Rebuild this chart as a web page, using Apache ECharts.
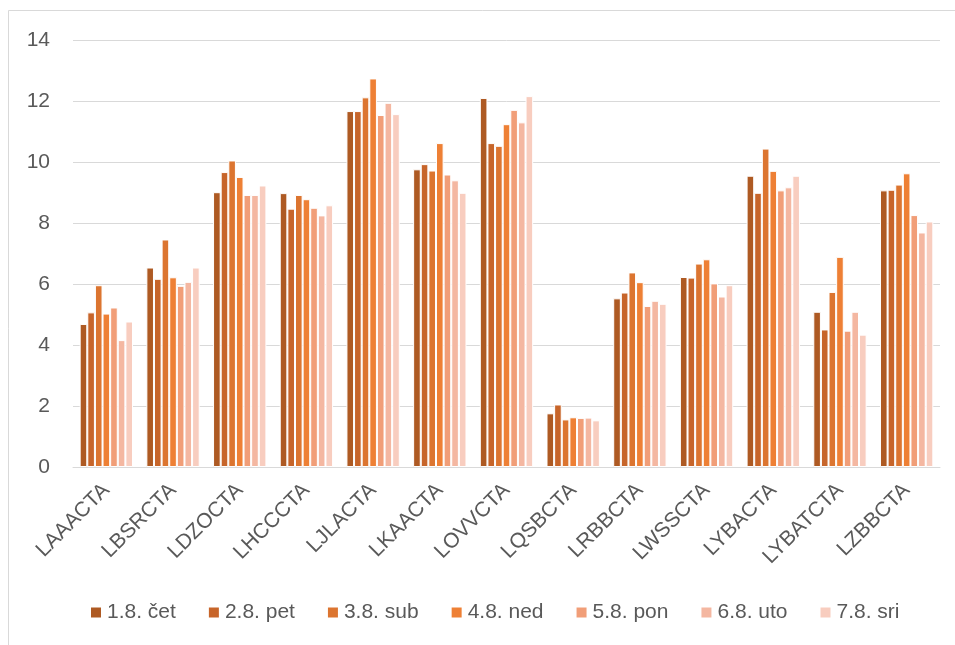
<!DOCTYPE html>
<html>
<head>
<meta charset="utf-8">
<script src="https://cdn.jsdelivr.net/npm/echarts@6/dist/echarts.min.js"></script>
<style>
  html, body { margin: 0; padding: 0; background: #ffffff; }
  #chart { width: 955px; height: 645px; }
</style>
</head>
<body>
<div id="chart"></div>
<script>
// Station codes along the x axis
const categories = ['LAAACTA', 'LBSRCTA', 'LDZOCTA', 'LHCCCTA', 'LJLACTA', 'LKAACTA', 'LOVVCTA',
  'LQSBCTA', 'LRBBCTA', 'LWSSCTA', 'LYBACTA', 'LYBATCTA', 'LZBBCTA'];

// One series per day
const dayNames = ['1.8. čet', '2.8. pet', '3.8. sub', '4.8. ned', '5.8. pon', '6.8. uto', '7.8. sri'];

const day1 = [4.69, 6.54, 9.01, 8.98, 11.67, 9.76, 12.10, 1.76, 5.53, 6.23, 9.55, 5.09, 9.07];
const day2 = [5.07, 6.17, 9.67, 8.47, 11.67, 9.93, 10.62, 2.05, 5.72, 6.21, 8.99, 4.51, 9.09];
const day3 = [5.96, 7.46, 10.05, 8.92, 12.12, 9.72, 10.53, 1.56, 6.38, 6.67, 10.44, 5.74, 9.26];
const day4 = [5.03, 6.22, 9.51, 8.78, 12.74, 10.62, 11.24, 1.63, 6.06, 6.81, 9.71, 6.89, 9.63];
const day5 = [5.23, 5.94, 8.92, 8.50, 11.54, 9.59, 11.71, 1.61, 5.28, 6.02, 9.07, 4.47, 8.26];
const day6 = [4.16, 6.07, 8.92, 8.25, 11.94, 9.40, 11.30, 1.62, 5.45, 5.59, 9.17, 5.09, 7.69];
const day7 = [4.77, 6.54, 9.23, 8.58, 11.57, 8.99, 12.16, 1.53, 5.35, 5.96, 9.55, 4.34, 8.05];

const dayValues = [day1, day2, day3, day4, day5, day6, day7];

const palette = ['#AE5A23', '#C7652A', '#DC7530', '#EE8035', '#F19E78', '#F4B7A1', '#F8CDBF'];

const textColor = '#595959';
const fontFamily = '"Liberation Sans", Arial, sans-serif';

const chart = echarts.init(document.getElementById('chart'), null, { renderer: 'canvas' });

chart.setOption({
  backgroundColor: '#ffffff',
  animation: false,
  color: palette,
  textStyle: { fontFamily: fontFamily, color: textColor },
  graphic: [{
    type: 'rect',
    shape: { x: 8.5, y: 10.5, width: 960, height: 660 },
    style: { fill: 'none', stroke: '#D9D9D9', lineWidth: 1 },
    silent: true
  }],
  grid: { left: 73, right: 15, top: 40, bottom: 178, containLabel: false },
  legend: {
    bottom: 17,
    left: 84,
    itemWidth: 12,
    itemHeight: 12,
    itemGap: 31,
    icon: 'rect',
    textStyle: { fontSize: 21, color: textColor, fontFamily: fontFamily },
    data: dayNames
  },
  xAxis: {
    type: 'category',
    data: categories,
    axisLine: { show: true, lineStyle: { color: '#D9D9D9', width: 1 } },
    axisTick: { show: false },
    axisLabel: {
      rotate: 45,
      interval: 0,
      margin: 20,
      fontSize: 21,
      color: textColor,
      fontFamily: fontFamily
    }
  },
  yAxis: {
    type: 'value',
    min: 0,
    max: 14,
    interval: 2,
    axisLine: { show: false },
    axisTick: { show: false },
    splitLine: { lineStyle: { color: '#D9D9D9', width: 1 } },
    axisLabel: { fontSize: 21, color: textColor, margin: 23, fontFamily: fontFamily }
  },
  series: dayNames.map((name, i) => ({
    name: name,
    type: 'bar',
    data: dayValues[i],
    barGap: '0%',
    barCategoryGap: '20%',
    itemStyle: { color: palette[i], borderColor: '#ffffff', borderWidth: 1 }
  }))
});
</script>
</body>
</html>
